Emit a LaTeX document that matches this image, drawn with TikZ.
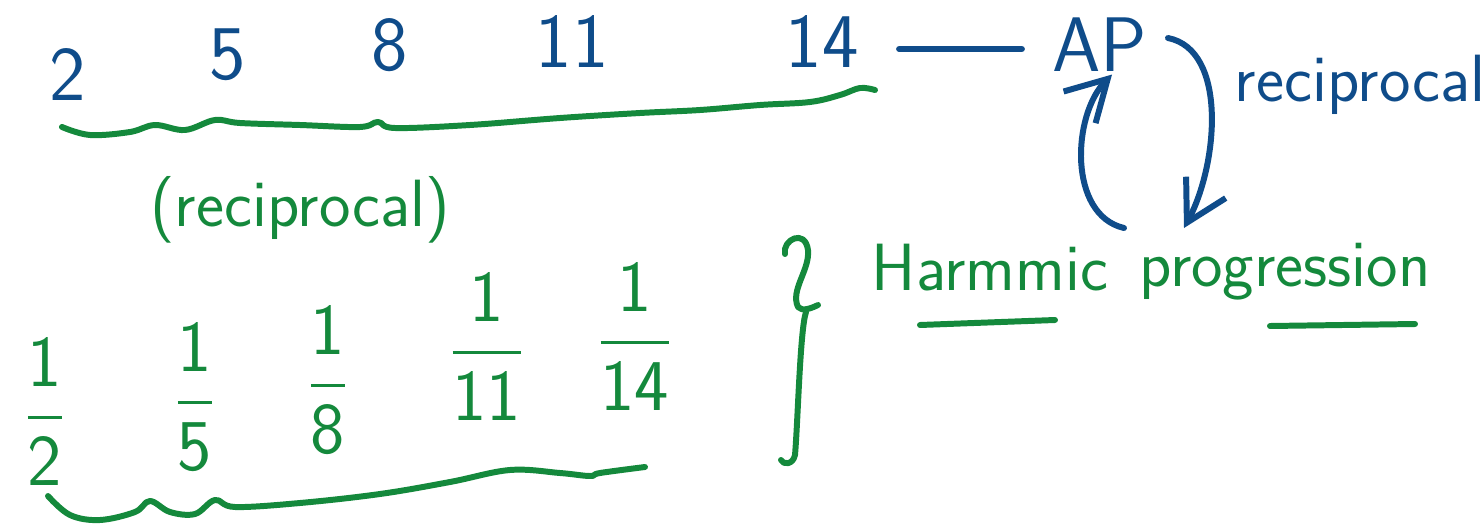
\documentclass[tikz,border=0pt]{standalone}
\usepackage{amsmath}
\usepackage{xcolor}
\definecolor{inkblue}{HTML}{0F4C8A}
\definecolor{inkgreen}{HTML}{14893C}
\usepackage{tikz}
\usetikzlibrary{arrows.meta, positioning, calc}

\begin{document}
\begin{tikzpicture}[x=0.01cm, y=-0.01cm,
  pen/.style={line width=1.7pt, line cap=round, line join=round},
  num/.style={text=inkblue, font=\sffamily\fontsize{22}{26}\selectfont, inner sep=0pt},
  frac/.style={text=inkgreen, font=\fontsize{20}{24}\selectfont, inner sep=0pt},
  word/.style={font=\sffamily\fontsize{19}{23}\selectfont, inner sep=0pt}
]
\useasboundingbox (0,0) rectangle (1484,527);

% Arithmetic progression
\node[num] (t2)  at (68,75)  {2};
\node[num] (t5)  at (228,55) {5};
\node[num] (t8)  at (390,45) {8};
\node[num] (t11) at (572,42) {11};
\node[num] (t14) at (822,42) {14};
\node[num] (ap)  at (1100,45) {AP};
\draw[pen, inkblue, shorten <=0.4cm, shorten >=0.3cm] ([yshift=-0.07cm]t14.east) -- ([yshift=-0.04cm]ap.west);

% brace under the first row
\draw[pen, inkgreen] plot[smooth, tension=0.6] coordinates {(62,127) (90,135) (130,132) (155,125) (185,130) (215,120) (240,123) (300,125) (360,127) (378,122) (395,128) (470,125) (560,118) (640,113) (700,110) (760,105) (810,102) (840,95) (860,88) (875,90)};

\node[word, text=inkgreen] (mid) at (300,210) {(reciprocal)};

% Reciprocals
\node[frac] (f2)  at (45,412)  {$\dfrac{\mathsf{1}}{\mathsf{2}}$};
\node[frac] (f5)  at (195,397) {$\dfrac{\mathsf{1}}{\mathsf{5}}$};
\node[frac] (f8)  at (328,380) {$\dfrac{\mathsf{1}}{\mathsf{8}}$};
\node[frac] (f11) at (487,347) {$\dfrac{\mathsf{1}}{\mathsf{11}}$};
\node[frac] (f14) at (635,337) {$\dfrac{\mathsf{1}}{\mathsf{14}}$};

% brace under the second row
\draw[pen, inkgreen] plot[smooth, tension=0.6] coordinates {(48,496) (70,515) (100,520) (135,512) (150,501) (170,512) (195,514) (215,500) (235,507) (300,503) (380,494) (450,482) (510,470) (560,473) (590,476) (600,473) (645,467)};

% big closing brace
\draw[pen, inkgreen] (785,254) .. controls (782,240) and (805,228) .. (808,250)
  .. controls (810,270) and (790,290) .. (798,307) .. controls (802,312) and (812,308) .. (818,305);
\draw[pen, inkgreen] (806,312) .. controls (800,330) and (798,420) .. (795,455)
  .. controls (793,465) and (783,465) .. (781,460);

% Harmonic progression
\node[word, text=inkgreen] (harm) at (990,268) {Harmmic};
\node[word, text=inkgreen] (prog) at (1285,272) {progression};
\draw[pen, inkgreen] (920,325) -- (1055,320);
\draw[pen, inkgreen] (1270,326) -- (1415,324);

% reciprocal arrows
\coordinate (lbot) at (1124,228);
\coordinate (rtop) at (1168,38);
\coordinate (rbot) at (1184,228);
\draw[pen, inkblue, -{Straight Barb[length=4mm, width=4.5mm]}] (lbot) .. controls (1068,215) and (1072,115) .. ([xshift=0.12cm, yshift=-0.02cm]ap.south);
\draw[pen, inkblue, -{Straight Barb[length=4mm, width=4.5mm]}] (rtop) .. controls (1228,50) and (1218,165) .. (rbot);
\node[word, text=inkblue] (recip) at (1360,85) {reciprocal};
\end{tikzpicture}
\end{document}
